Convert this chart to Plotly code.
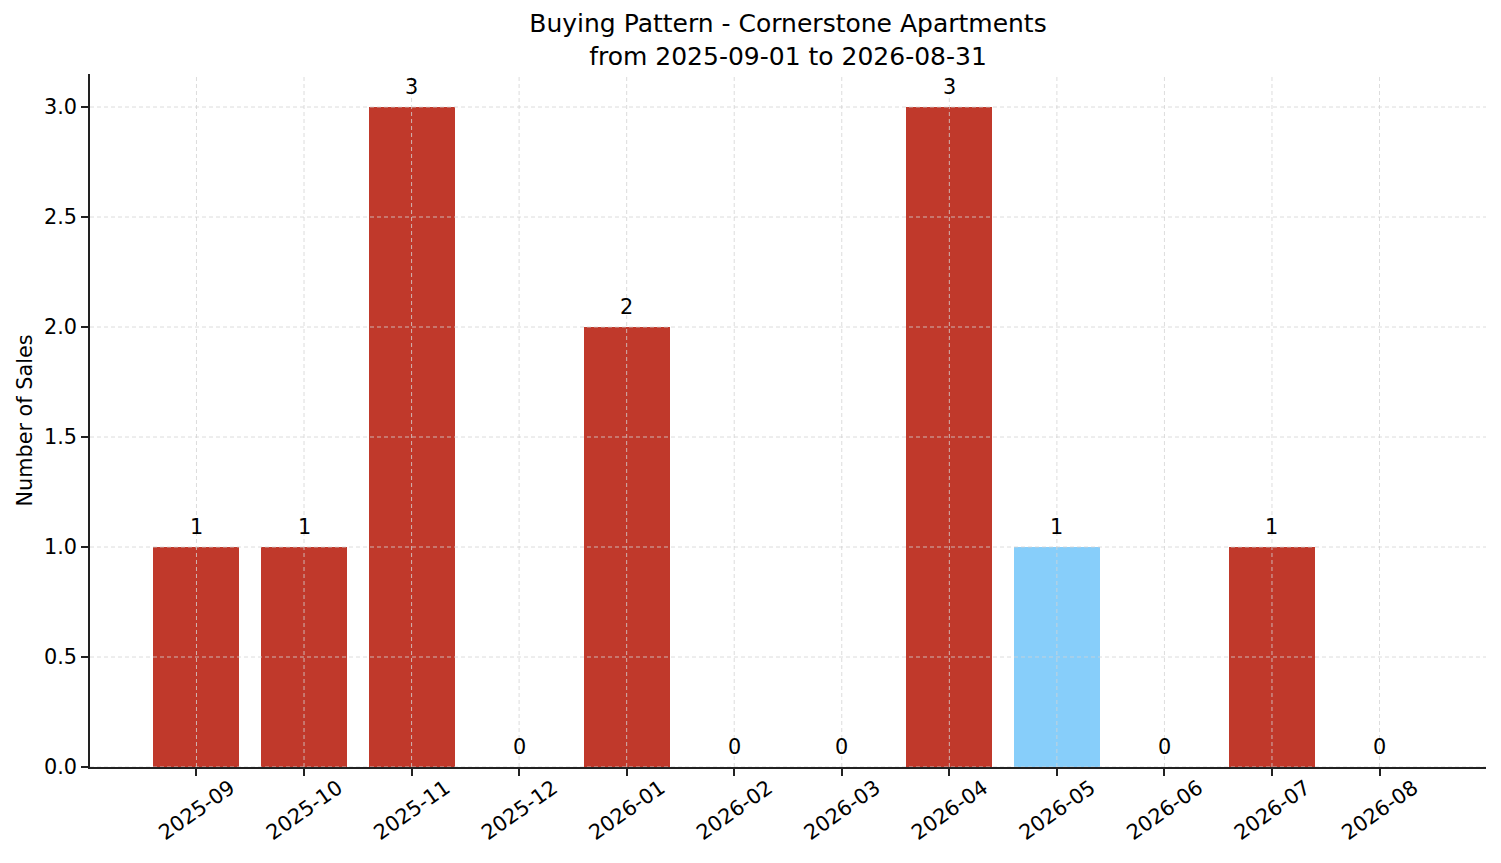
import plotly.graph_objects as go

months = ["2025-09", "2025-10", "2025-11", "2025-12", "2026-01", "2026-02",
          "2026-03", "2026-04", "2026-05", "2026-06", "2026-07", "2026-08"]
sales = [1, 1, 3, 0, 2, 0, 0, 3, 1, 0, 1, 0]
bar_colors = ["#C0392B"] * 8 + ["#87CEFA"] + ["#C0392B"] * 3
y_ticks = [0.0, 0.5, 1.0, 1.5, 2.0, 2.5, 3.0]

FONT = "DejaVu Sans"
x_pos = list(range(len(months)))

fig = go.Figure()
fig.add_trace(
    go.Bar(
        x=x_pos,
        y=sales,
        width=0.8,
        marker_color=bar_colors,
        marker_line_width=0,
        showlegend=False,
    )
)

# value labels above each bar
for x, v in zip(x_pos, sales):
    fig.add_annotation(
        x=x, y=v, text=str(v), showarrow=False,
        yanchor="bottom", yshift=6,
        font=dict(family=FONT, size=20.8, color="black"),
    )

# grid drawn above the bars (like matplotlib)
grid = dict(color="#d3d3d3", width=0.8, dash="4px,3px")
for x in x_pos:
    fig.add_shape(type="line", xref="x", yref="paper", x0=x, x1=x, y0=0, y1=1,
                  line=grid, layer="above")
for y in y_ticks:
    fig.add_shape(type="line", xref="paper", yref="y", x0=0, x1=1, y0=y, y1=y,
                  line=grid, layer="above")

# page body has an 8px margin, so the figure is sized to fit the window
fig.update_layout(
    width=1493,
    height=855,
    paper_bgcolor="white",
    plot_bgcolor="white",
    margin=dict(l=82, r=15, t=66, b=96, autoexpand=False),
    font=dict(family=FONT, size=20.8, color="black"),
    title=dict(
        text="Buying Pattern - Cornerstone Apartments<br>from 2025-09-01 to 2026-08-31",
        x=0.5, xref="paper", xanchor="center",
        y=1 - 24 / 855, yref="container", yanchor="top",
        font=dict(family=FONT, size=25, color="black"),
        automargin=False,
    ),
    bargap=0,
)
fig.update_xaxes(
    range=[-0.99, 11.99],
    tickmode="array",
    tickvals=x_pos,
    ticktext=months,
    tickangle=-35,
    ticklabelshift=34,
    ticklabelstandoff=-8,
    ticks="outside", ticklen=7, tickwidth=1.6, tickcolor="#222",
    showline=True, linecolor="#222", linewidth=1.6,
    showgrid=False, zeroline=False, automargin=False,
    tickfont=dict(family=FONT, size=20.8, color="black"),
)
fig.update_yaxes(
    range=[0, 3.15],
    tickmode="array",
    tickvals=y_ticks,
    tickformat=".1f",
    ticks="outside", ticklen=7, tickwidth=1.6, tickcolor="#222",
    showline=True, linecolor="#222", linewidth=1.6,
    showgrid=False, zeroline=False, automargin=False,
    title=dict(text="Number of Sales", standoff=6,
               font=dict(family=FONT, size=20.8, color="black")),
    tickfont=dict(family=FONT, size=20.8, color="black"),
)

fig.write_html("out.html")
